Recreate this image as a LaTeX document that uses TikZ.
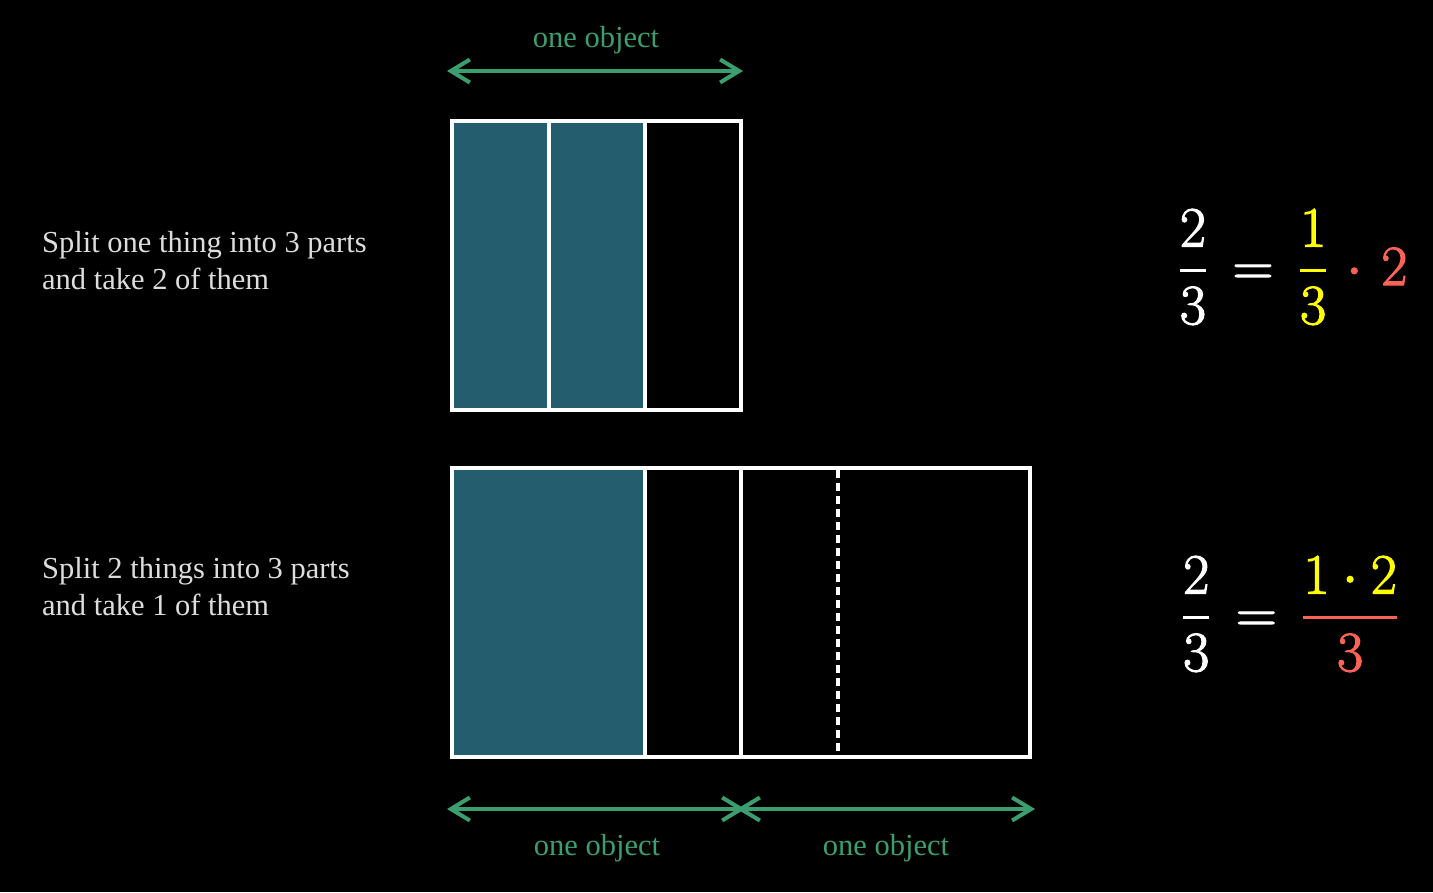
\RequirePackage{fix-cm}
\documentclass[tikz,border=0pt]{standalone}
\usepackage{amsmath}
\usepackage[no-math]{fontspec}
\setmainfont{Liberation Serif}
\usetikzlibrary{arrows.meta}
\definecolor{tealfill}{HTML}{245E6E}
\definecolor{objgreen}{HTML}{3B9E6E}
\definecolor{txtgrey}{HTML}{DDDDDD}
\definecolor{myred}{HTML}{FC6255}
\definecolor{myyellow}{HTML}{FFFF00}
\newcommand{\thickfrac}[2]{\genfrac{}{}{3pt}{0}{#1}{#2}}
\newcommand{\boldon}{\special{pdf:literal 2 Tr 1.1 w}}
\newcommand{\boldoff}{\special{pdf:literal 0 Tr}}
\tikzset{
  objarrow/.style={draw=objgreen, line width=4pt,
    {Straight Barb[length=19pt,width=23pt,line width=4pt]}-{Straight Barb[length=19pt,width=23pt,line width=4pt]}},
  objlabel/.style={text=objgreen, font=\fontsize{30.5}{36}\selectfont, inner sep=0pt},
  desc/.style={text=txtgrey, font=\fontsize{30.5}{37}\selectfont, align=left, anchor=west, inner sep=0pt},
  cellfill/.style={fill=tealfill, draw=none},
  frame/.style={draw=white, line width=4pt},
  eqn/.style={text=white, font=\fontsize{57}{68}\selectfont, inner sep=0pt}
}
\begin{document}
\begin{tikzpicture}[x=1pt,y=-1pt]
\fill[black] (0,0) rectangle (1433,892);
\useasboundingbox (0,0) rectangle (1433,892);

% top arrow
\coordinate (ta1) at (447,71);
\coordinate (ta2) at (743,71);
\draw[objarrow] (ta1) -- (ta2);
\node[objlabel] (tl) at (596,40) {one object};

% top rectangle
\fill[cellfill] (452,121) rectangle (548.5,410);
\fill[cellfill] (548.5,121) rectangle (645,410);
\draw[frame] (452,121) rectangle (741,410);
\draw[frame] (548.5,121) -- (548.5,410);
\draw[frame] (645,121) -- (645,410);

% bottom rectangle
\fill[cellfill] (452,468) rectangle (645,757);
\draw[frame] (452,468) rectangle (1030,757);
\draw[frame] (645,468) -- (645,757);
\draw[frame] (741,468) -- (741,757);
\draw[draw=white, line width=4pt, dash pattern=on 8pt off 5pt] (838,470) -- (838,755);

% bottom arrows
\coordinate (ba1) at (447,809);
\coordinate (ba2) at (745,809);
\coordinate (ba3) at (737,809);
\coordinate (ba4) at (1035,809);
\draw[objarrow] (ba1) -- (ba2);
\draw[objarrow] (ba3) -- (ba4);
\node[objlabel] (bl1) at (597,848) {one object};
\node[objlabel] (bl2) at (886,848) {one object};

% descriptions
\node[desc] (d1) at (42,261) {Split one thing into 3 parts\\and take 2 of them};
\node[desc] (d2) at (42,587) {Split 2 things into 3 parts\\and take 1 of them};

% equations
\node[eqn] (e1) at (1293,267) {\boldon$\displaystyle \thickfrac{2}{3} \mkern3mu=\mkern3mu \textcolor{myyellow}{\thickfrac{1}{3}} \mkern2mu\mathbin{\textcolor{myred}{\cdot}}\mkern2mu \textcolor{myred}{2}$\boldoff};
\node[eqn] (e2) at (1290,614) {\boldon$\displaystyle \thickfrac{2}{3} \mkern3mu=\mkern3mu \textcolor{myred}{\thickfrac{\textcolor{myyellow}{1\cdot 2}}{3}}$\boldoff};
\end{tikzpicture}
\end{document}
